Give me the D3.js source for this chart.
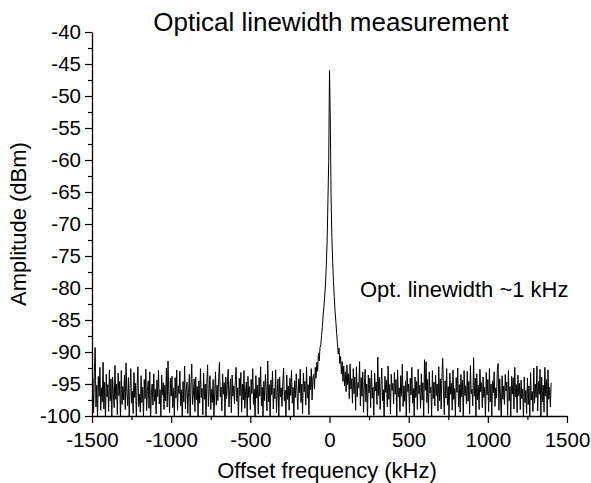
<!DOCTYPE html>
<html>
<head>
<meta charset="utf-8">
<script src="https://cdn.jsdelivr.net/npm/d3@7"></script>
<style>
  html, body { margin: 0; padding: 0; background: #fff; }
  svg { display: block; font-family: "Liberation Sans", Arial, sans-serif; }
</style>
</head>
<body>
<svg id="chart" width="591" height="483"></svg>
<script>
// ---- data ----
const freqStartKHz = -1500;
const freqStepKHz = 5;
// amplitude in dBm, one sample per 5 kHz from -1500 to 1400 kHz
const noiseLeft = [
  -97.2,-94.1,-99.5,-93.0,-89.3,-98.6,-95.2,-100.4,-93.8,-96.9,-92.4,-99.1,-95.6,-97.8,-91.6,-98.9,-94.7,-100.8,-93.5,-97.0,
  -95.1,-99.3,-92.8,-97.6,-94.2,-100.2,-93.9,-96.5,-98.7,-92.1,-97.4,-95.0,-99.8,-93.3,-96.8,-94.6,-100.6,-92.9,-98.2,-95.4,
  -97.5,-93.6,-99.0,-91.7,-96.3,-98.4,-94.0,-100.1,-95.7,-92.6,-98.0,-96.1,-99.6,-93.2,-97.1,-94.9,-100.5,-95.3,-92.3,-98.5,
  -96.6,-99.4,-93.7,-97.9,-95.5,-100.3,-94.3,-97.3,-92.7,-99.2,-96.0,-94.5,-98.8,-93.1,-100.9,-96.4,-95.0,-98.3,-93.4,-97.7,
  -95.8,-99.7,-94.4,-97.0,-92.9,-98.1,-95.9,-100.0,-93.6,-96.7,-94.8,-99.0,-95.2,-97.6,-92.5,-98.6,-91.4,-96.2,-99.5,-94.1,
  -96.9,-93.8,-98.7,-95.6,-100.2,-94.0,-97.2,-92.8,-99.1,-95.3,-96.5,-93.0,-98.4,-95.9,-100.7,-94.6,-97.8,-92.2,-98.9,-96.0,
  -94.7,-99.6,-96.3,-93.5,-100.4,-95.1,-91.9,-98.2,-96.8,-94.2,-99.3,-93.9,-97.5,-95.4,-100.1,-94.5,-98.0,-92.6,-97.1,-95.7,
  -99.8,-93.3,-97.4,-95.0,-100.5,-94.9,-92.0,-98.5,-96.1,-93.7,-99.0,-95.8,-97.9,-94.3,-100.3,-96.4,-93.1,-98.3,-95.2,-97.6,
  -94.0,-91.6,-97.0,-95.5,-99.2,-93.4,-96.6,-94.8,-100.0,-93.9,-97.3,-95.1,-92.7,-98.6,-95.9,-94.2,-99.5,-93.6,-96.9,-95.3,
  -98.1,-94.5,-92.4,-97.7,-95.6,-100.6,-94.1,-96.8,-93.2,-99.4,-95.0,-97.5,-92.9,-98.8,-96.2,-94.7,-100.2,-93.8,-97.1,-95.4,
  -99.0,-94.3,-96.5,-92.6,-98.2,-95.8,-100.4,-93.7,-97.2,-95.2,-99.7,-94.0,-96.9,-92.3,-98.4,-95.5,-100.1,-94.6,-97.6,-93.5,
  -96.0,-99.2,-91.4,-97.8,-95.1,-100.7,-94.4,-96.7,-93.0,-98.9,-95.7,-97.3,-92.8,-99.5,-96.3,-94.2,-100.2,-93.9,-97.0,-95.6,
  -98.5,-94.8,-92.5,-97.6,-96.0,-100.3,-93.6,-97.4,-95.3,-99.1,-94.1,-96.8,-92.9,-98.0,-95.5,-100.0,-94.5,-97.1,-93.4,-96.5,
  -99.0,-94.2,-96.4,-92.7,-97.9,-95.0,-99.6,-93.3,-96.2,-94.6,-98.3,-92.4,-97.2,-95.1,-99.8,-93.8,-95.9,-92.6,-97.5,-94.0
];
const peakRise = [
  -93.5,-95.8,-92.4,-94.1,-91.6,-93.0,-90.2,-91.4,-89.3,-88.9,
  -87.4,-86.0,-84.2,-82.9,-81.1,-79.4,-76.3,-72.8,-66.5,-60.2
];
const peakTop = [-46.0];
const peakFall = [
  -53.6,-65.8,-72.1,-75.9,-79.0,-81.3,-83.6,-85.2,-87.0,-88.6,
  -90.3,-89.4,-91.8,-90.7,-93.4,-91.5,-94.6,-92.2,-95.3,-93.1
];
const noiseRight = [
  -96.2,-92.0,-95.1,-93.4,-97.3,-91.9,-95.8,-94.2,-98.0,-92.6,-96.5,-93.9,-99.1,-92.3,-97.0,-94.8,-95.6,-91.5,-98.4,-94.0,
  -96.9,-93.1,-99.4,-95.2,-92.7,-97.8,-95.0,-100.3,-93.6,-96.4,-94.1,-98.7,-92.9,-97.2,-95.5,-99.9,-93.3,-96.1,-94.7,-98.2,
  -90.8,-96.8,-94.0,-99.0,-95.4,-92.5,-97.6,-95.9,-100.5,-93.8,-96.3,-94.4,-98.6,-92.2,-97.4,-95.1,-99.7,-93.5,-96.0,-94.9,
  -98.1,-93.2,-96.6,-94.3,-100.1,-92.8,-97.0,-95.6,-99.3,-93.7,-96.9,-91.9,-98.5,-95.3,-97.7,-94.5,-100.4,-93.0,-96.2,-95.0,
  -99.5,-94.1,-96.7,-92.4,-98.0,-95.7,-100.2,-93.9,-97.1,-94.6,-99.0,-92.7,-96.5,-95.2,-98.8,-93.4,-97.5,-94.8,-100.6,-91.2,
  -96.0,-91.5,-97.9,-94.3,-99.6,-93.1,-96.4,-95.5,-100.0,-92.9,-97.3,-94.7,-98.4,-93.6,-96.8,-95.0,-99.2,-92.3,-97.6,-94.2,
  -98.9,-93.8,-91.0,-96.1,-99.8,-94.5,-97.2,-92.6,-98.3,-95.4,-100.3,-93.3,-96.6,-94.9,-99.1,-92.8,-97.4,-95.7,-100.1,-94.0,
  -96.3,-92.5,-98.6,-95.1,-99.4,-93.5,-97.0,-94.4,-100.5,-92.9,-96.8,-95.3,-98.1,-93.0,-97.7,-94.6,-99.7,-92.1,-96.5,-95.8,
  -98.4,-90.9,-96.9,-94.1,-100.2,-93.4,-97.5,-95.2,-99.0,-92.7,-96.2,-94.8,-98.7,-93.9,-97.1,-95.5,-100.4,-93.2,-96.7,-94.3,
  -99.3,-92.6,-97.8,-95.0,-100.0,-94.5,-96.4,-93.1,-98.5,-95.6,-97.2,-92.8,-91.8,-99.1,-94.2,-96.9,-100.6,-93.7,-97.4,-95.3,
  -98.2,-93.5,-96.1,-94.7,-99.9,-92.9,-97.6,-95.4,-100.3,-93.8,-96.6,-94.0,-98.9,-92.4,-97.0,-95.1,-99.5,-93.6,-96.8,-94.9,
  -99.0,-94.4,-97.3,-95.8,-100.4,-93.9,-97.9,-96.0,-99.6,-94.1,-98.2,-95.3,-100.7,-93.2,-97.5,-96.2,-99.3,-92.5,-98.0,-95.0,
  -97.1,-92.2,-99.2,-94.6,-96.6,-92.7,-100.1,-93.9,-97.8,-95.2,-99.4,-92.4,-96.9,-94.3,-100.0,-92.8,-97.4,-95.5,-98.6,-94.8
];
const xTicks = [-1500, -1000, -500, 0, 500, 1000, 1500];
const xMinorTicks = [-1250, -750, -250, 250, 750, 1250];
const yTicks = [-100, -95, -90, -85, -80, -75, -70, -65, -60, -55, -50, -45, -40];
const yMinorTicks = [-97.5, -92.5, -87.5, -82.5, -77.5, -72.5, -67.5, -62.5, -57.5, -52.5, -47.5, -42.5];
const titleText = "Optical linewidth measurement";
const xLabel = "Offset frequency (kHz)";
const yLabel = "Amplitude (dBm)";
const annotationText = "Opt. linewidth ~1 kHz";

const amplitude = [].concat(noiseLeft, peakRise, peakTop, peakFall, noiseRight);
const series = amplitude.map((v, i) => ({ f: freqStartKHz + i * freqStepKHz, a: v }));

// ---- layout ----
const svg = d3.select("#chart");
const plotL = 92, plotR = 567, plotT = 32, plotB = 416;
const x = d3.scaleLinear().domain([-1500, 1500]).range([plotL, plotR]);
const y = d3.scaleLinear().domain([-100, -40]).range([plotB, plotT]);

svg.append("defs").append("clipPath").attr("id", "plotclip")
  .append("rect").attr("x", plotL).attr("y", plotT - 2).attr("width", plotR - plotL).attr("height", plotB - plotT + 2);

// line
const line = d3.line().x(d => x(d.f)).y(d => y(d.a));
svg.append("path")
  .datum(series)
  .attr("clip-path", "url(#plotclip)")
  .attr("fill", "none")
  .attr("stroke", "#000")
  .attr("stroke-width", 1.0)
  .attr("stroke-linejoin", "miter")
  .attr("d", line);

// axes
const fmt = d => String(d);
svg.append("g").attr("class", "xaxis").attr("transform", `translate(0,${plotB})`)
  .call(d3.axisBottom(x).tickValues(xTicks).tickSize(7).tickSizeOuter(0).tickPadding(9).tickFormat(fmt));
svg.append("g").attr("transform", `translate(0,${plotB})`)
  .call(d3.axisBottom(x).tickValues(xMinorTicks).tickSize(4).tickSizeOuter(0).tickFormat(""))
  .select(".domain").remove();
svg.append("g").attr("class", "yaxis").attr("transform", `translate(${plotL},0)`)
  .call(d3.axisLeft(y).tickValues(yTicks).tickSize(7).tickSizeOuter(0).tickPadding(4).tickFormat(fmt));
svg.append("g").attr("transform", `translate(${plotL},0)`)
  .call(d3.axisLeft(y).tickValues(yMinorTicks).tickSize(4).tickSizeOuter(0).tickFormat(""))
  .select(".domain").remove();

svg.selectAll(".domain").attr("stroke", "#000").attr("stroke-width", 1.3);
svg.selectAll(".tick line").attr("stroke", "#000").attr("stroke-width", 1.2);
svg.selectAll(".tick text")
  .attr("fill", "#000")
  .style("font-size", "20.5px")
  .style("font-family", "'Liberation Sans', Arial, sans-serif");

// labels
svg.append("text").attr("x", 331).attr("y", 31).attr("text-anchor", "middle")
  .style("font-size", "26px").attr("fill", "#000").text(titleText);
svg.append("text").attr("x", 327).attr("y", 478).attr("text-anchor", "middle")
  .style("font-size", "22px").attr("fill", "#000").text(xLabel);
svg.append("text").attr("transform", `translate(26,224) rotate(-90)`).attr("text-anchor", "middle")
  .style("font-size", "22px").attr("fill", "#000").text(yLabel);
svg.append("text").attr("x", 360).attr("y", 297).attr("text-anchor", "start")
  .style("font-size", "22px").attr("fill", "#000").text(annotationText);
</script>
</body>
</html>
